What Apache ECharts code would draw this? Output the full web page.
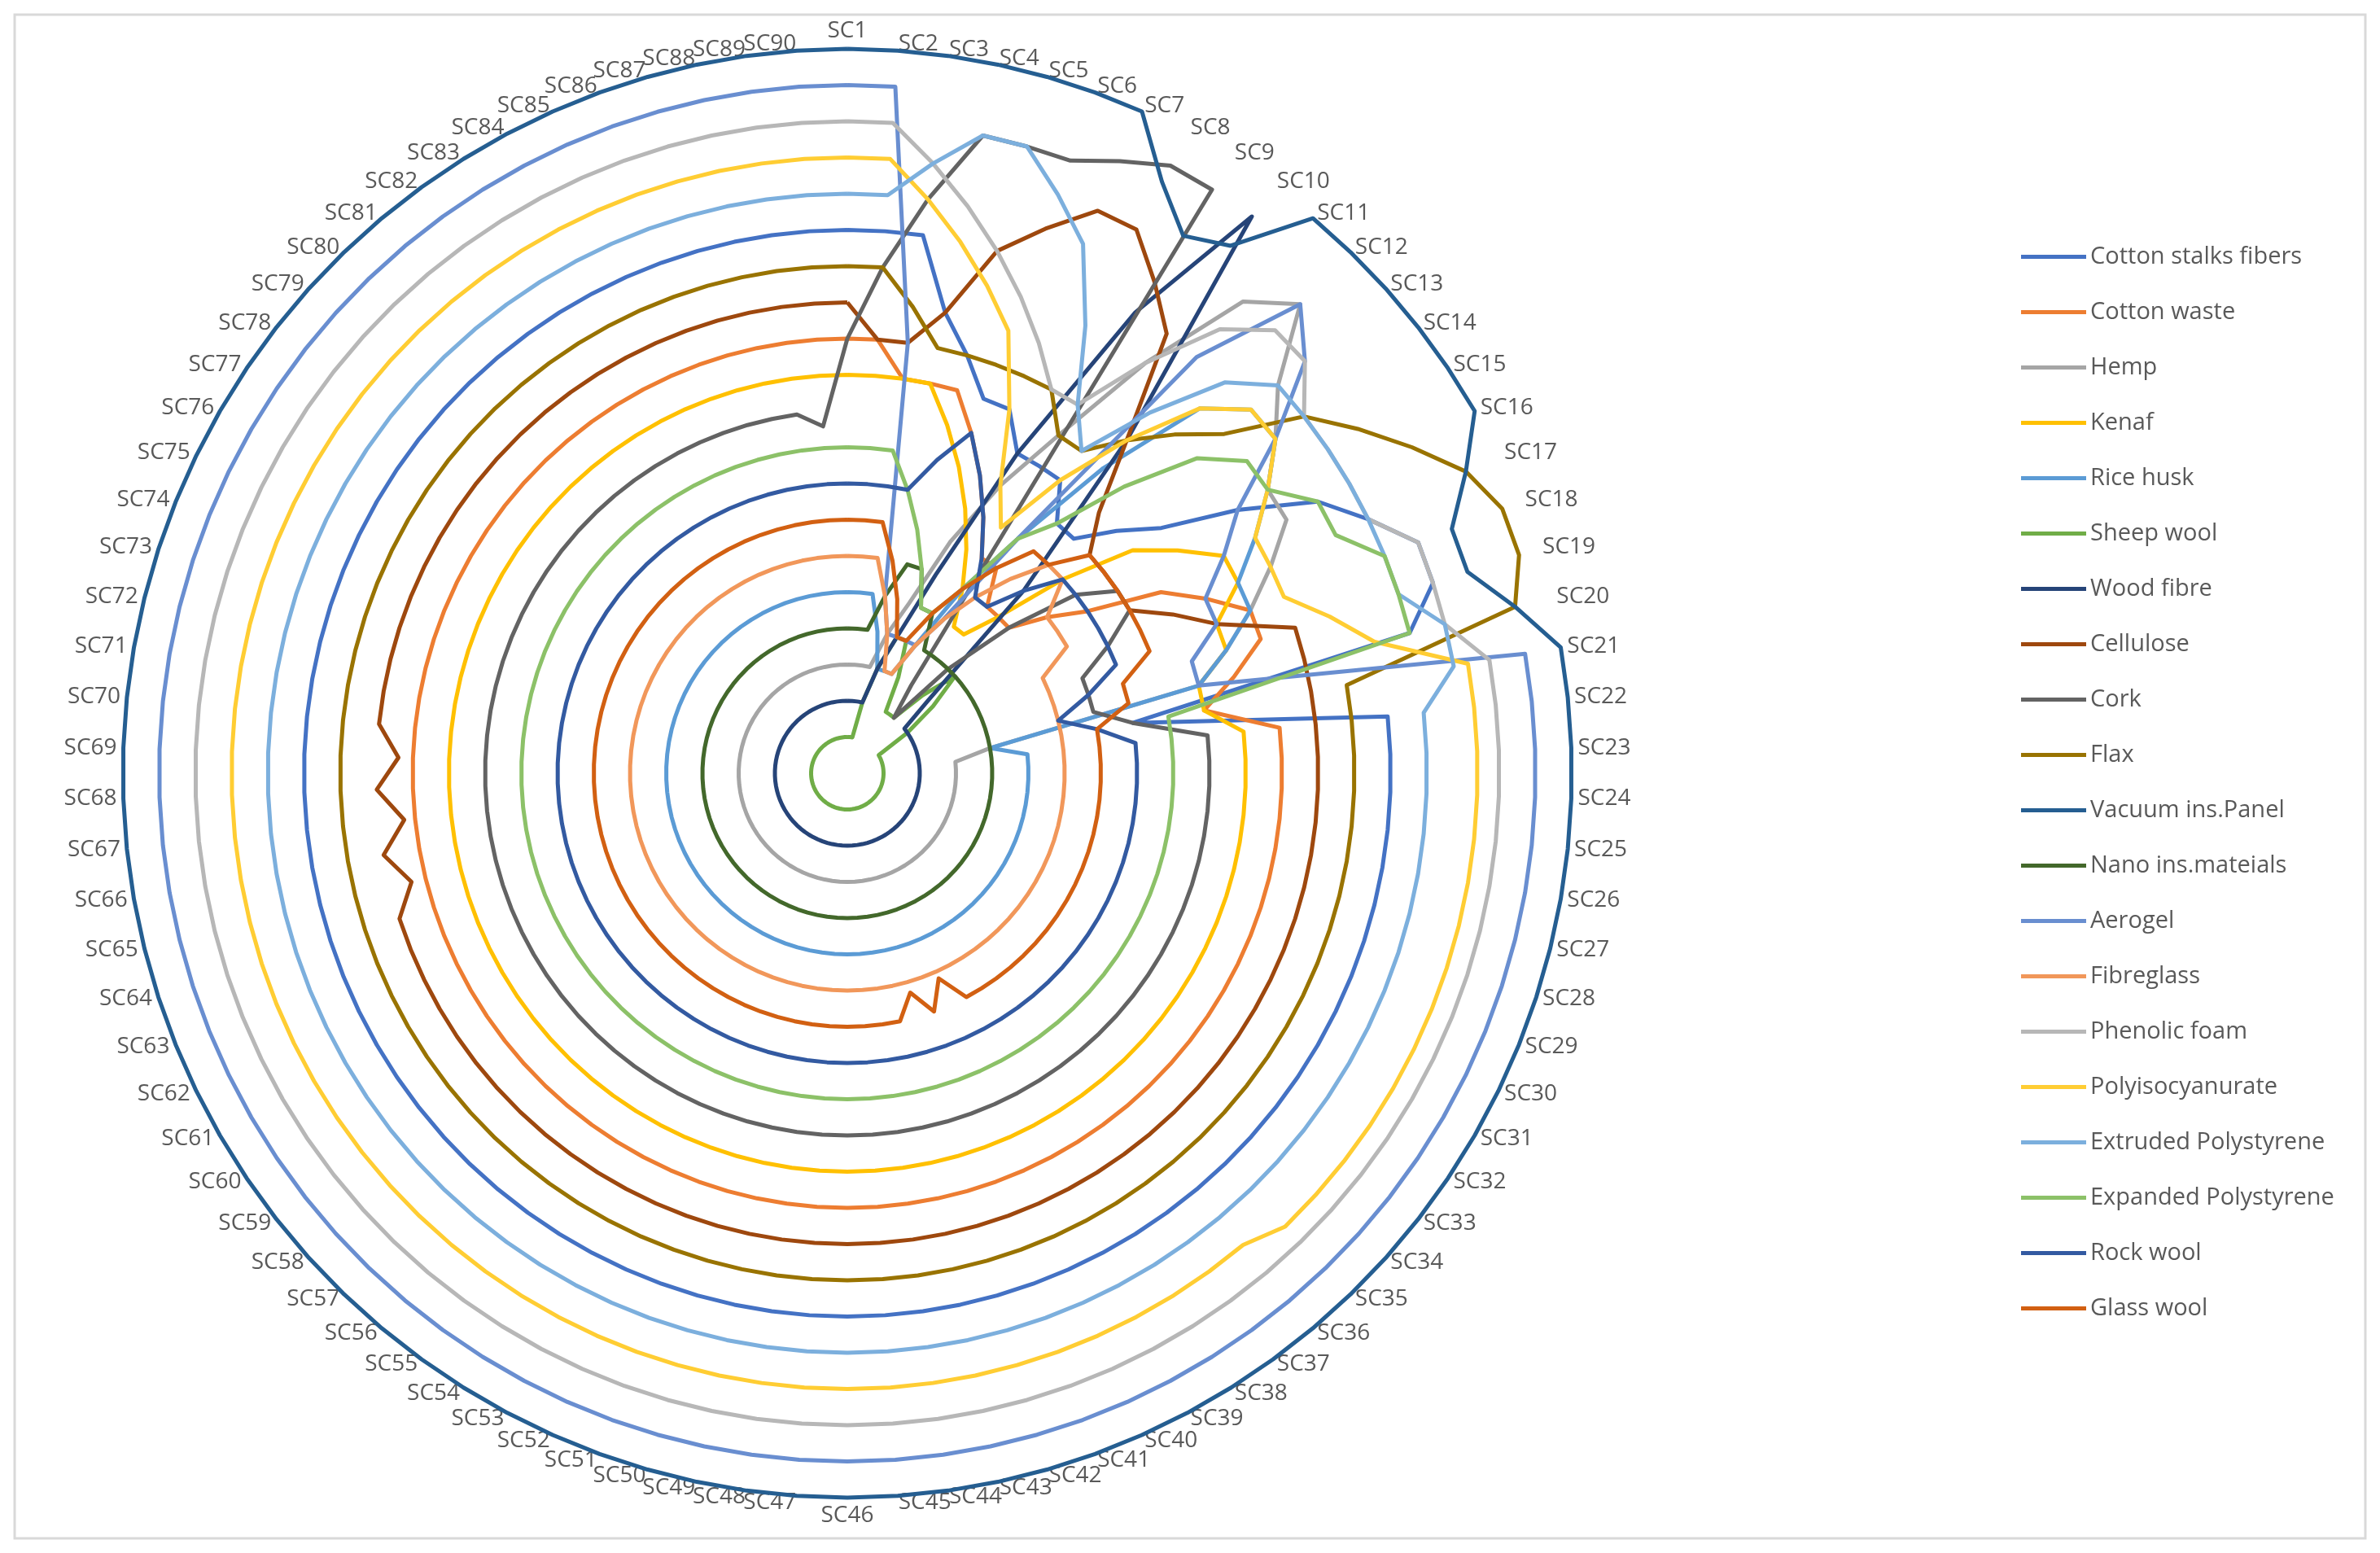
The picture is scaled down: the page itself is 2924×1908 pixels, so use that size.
<!DOCTYPE html>
<html><head><meta charset="utf-8">
<script src="https://cdn.jsdelivr.net/npm/echarts@6/dist/echarts.min.js"></script>
<style>html,body{margin:0;padding:0;background:#fff}#c{width:2924px;height:1908px}</style>
</head><body><div id="c"></div>
<script>
const categories = [];
for (let i = 1; i <= 90; i++) categories.push('SC' + i);
const seriesNames = ['Cotton stalks fibers','Cotton waste','Hemp','Kenaf','Rice husk','Sheep wool','Wood fibre','Cellulose','Cork','Flax','Vacuum ins.Panel','Nano ins.mateials','Aerogel','Fibreglass','Phenolic foam','Polyisocyanurate','Extruded Polystyrene','Expanded Polystyrene','Rock wool','Glass wool'];
const colors = ['#4472C4','#ED7D31','#A5A5A5','#FFC000','#5B9BD5','#70AD47','#264478','#9E480E','#636363','#997300','#255E91','#43682B','#698ED0','#F1975A','#B7B7B7','#FFCD33','#7CAFDD','#8CC168','#335AA1','#D26012'];
// values SC1..SC22, then base value for SC23..SC90, then exceptions {index(1-based): value}
const headCottonStalks = [15,15,15,13,12,11,11,10,10,10,9,9,10,11,13,15,16,17,17,16,8,15];
const headCottonWaste  = [12,12,11,11,11,10,9,8,7,7,6,6,6,7,8,10,11,12,12,11,10,12];
const headHemp         = [3,3,3,3,4,5,7,9,11,14,17,18,16,15,14,14,13,12,11,10,4,3];
const headKenaf        = [11,11,11,11,10,9,8,7,6,5,5,6,8,10,11,12,12,11,11,10,10,11];
const headRiceHusk     = [5,5,5,4,3,3,3,4,6,8,11,14,15,15,14,13,12,12,11,10,4,5];
const headSheepWool    = [1,1,1,2,3,4,4,3,2,2,2,3,4,3,2,1,1,1,1,1,1,1];
const headWoodFibre    = [2,2,2,2,3,4,6,10,15,19,12,7,3,2,2,2,2,2,2,2,2,2];
const headCellulose    = [13,12,12,13,15,16,17,17,16,15,12,10,9,9,9,9,10,11,13,13,13,13];
const headCork         = [12,14,16,18,18,18,18.5,19,19,3,2,4,6,8,9,9,8,7,7,7,8,10];
const headFlax         = [14,14,13,12,12,12,12,12,11,11,12,13,14,16,17,18,19,19.5,19.5,19,14,14];
const headVacuum       = [20,20,20,20,20,20,20,18.5,17.5,18,20,20,20,20,20,20,19,18,18,19,20,20];
const headNano         = [4,4,4,5,6,6,5,5,4,4,4,4,4,4,4,4,4,4,4,4,4,4];
const headAerogel      = [19,19,12,5,4,4,4,4,5,8,15,18,17,15,13,12,11,11,10,10,19,19];
const headFibreglass   = [6,6,6,5,4,3,3,4,5,6,7,8,8,7,7,7,6,6,6,6,6,6];
const headPhenolic     = [18,18,17,16,15,14,13,12,12,14,16,17,17,16,16,16,16,17,17,17,18,18];
const headPolyiso      = [17,17,16,15,14,13,11,9,8,10,12,14,15,15,14,13,13,13,14,15,17.4,17.4];
const headXPS          = [16,16,17,18,18,17,16,14,12,11,13,15,16,16,16,16,16,16,16,17,17,16];
const headEPS          = [9,9,9,8,7,6,5,5,6,8,9,11,13,14,14,15,15,16,16,16,9,9];
const headRockWool     = [8,8,8,8,9,10,9,8,7,6,6,7,8,8,8,8,8,8,7,6,7,8];
const headGlassWool    = [7,7,7,6,5,4,4,5,6,7,8,8,9,9,9,9,9,9,8,8,7,7];
const heads = [headCottonStalks,headCottonWaste,headHemp,headKenaf,headRiceHusk,headSheepWool,headWoodFibre,headCellulose,headCork,headFlax,headVacuum,headNano,headAerogel,headFibreglass,headPhenolic,headPolyiso,headXPS,headEPS,headRockWool,headGlassWool];
const baseValues = [15,12,3,11,5,1,2,13,10,14,20,4,19,6,18,17,16,9,8,7];
const exceptions = [
  {}, {}, {}, {}, {}, {}, {},
  {64:13,65:12.4,66:13,67:12.3,68:13,69:12.4,70:13},
  {89:10,90:9.6},
  {}, {}, {}, {}, {}, {},
  {23:17.4,24:17.4,25:17.4,26:17.4,27:17.4,28:17.4,29:17.4,30:17.4,31:17.4,32:17.4,33:17.4,34:17.4,35:17.4},
  {}, {}, {},
  {39:7,40:6.2,41:7,42:6.3,43:7}
];

function buildValues(k){
  const v = [];
  for (let i = 1; i <= 90; i++) {
    let x = i <= heads[k].length ? heads[k][i-1] : baseValues[k];
    if (exceptions[k][i] !== undefined) x = exceptions[k][i];
    v.push(x);
  }
  return [v[0]].concat(v.slice(1).reverse());
}
const order = [categories[0]].concat(categories.slice(1).reverse());

const chart = echarts.init(document.getElementById('c'));
chart.setOption({
  backgroundColor:'#fff',
  animation:false,
  color: colors,
  graphic:[{type:'rect',shape:{x:18,y:18,width:2888,height:1872},style:{fill:'none',stroke:'#d9d9d9',lineWidth:3}}],
  legend:{
    orient:'vertical', left:2478, top:296, itemGap:39, itemWidth:80, itemHeight:28,
    icon:'path://M0,12 L80,12 L80,17 L0,17 Z',
    textStyle:{fontSize:29,color:'#595959',fontFamily:'Open Sans'},
    data: seriesNames
  },
  radar:{
    center:[1041,950], radius:890, startAngle:90, shape:'circle',
    indicator: order.map(n=>({name:n,min:0,max:20})),
    axisName:{color:'#595959',fontSize:28,fontFamily:'Open Sans'},
    nameGap:8,
    splitNumber:1,
    axisLine:{show:false}, splitLine:{show:false}, splitArea:{show:false}, axisTick:{show:false}, axisLabel:{show:false}
  },
  series:[{
    type:'radar', symbol:'none',
    data: seriesNames.map((n,k)=>({name:n,value:buildValues(k),lineStyle:{width:5,color:colors[k]},itemStyle:{color:colors[k]}}))
  }]
});
</script></body></html>
